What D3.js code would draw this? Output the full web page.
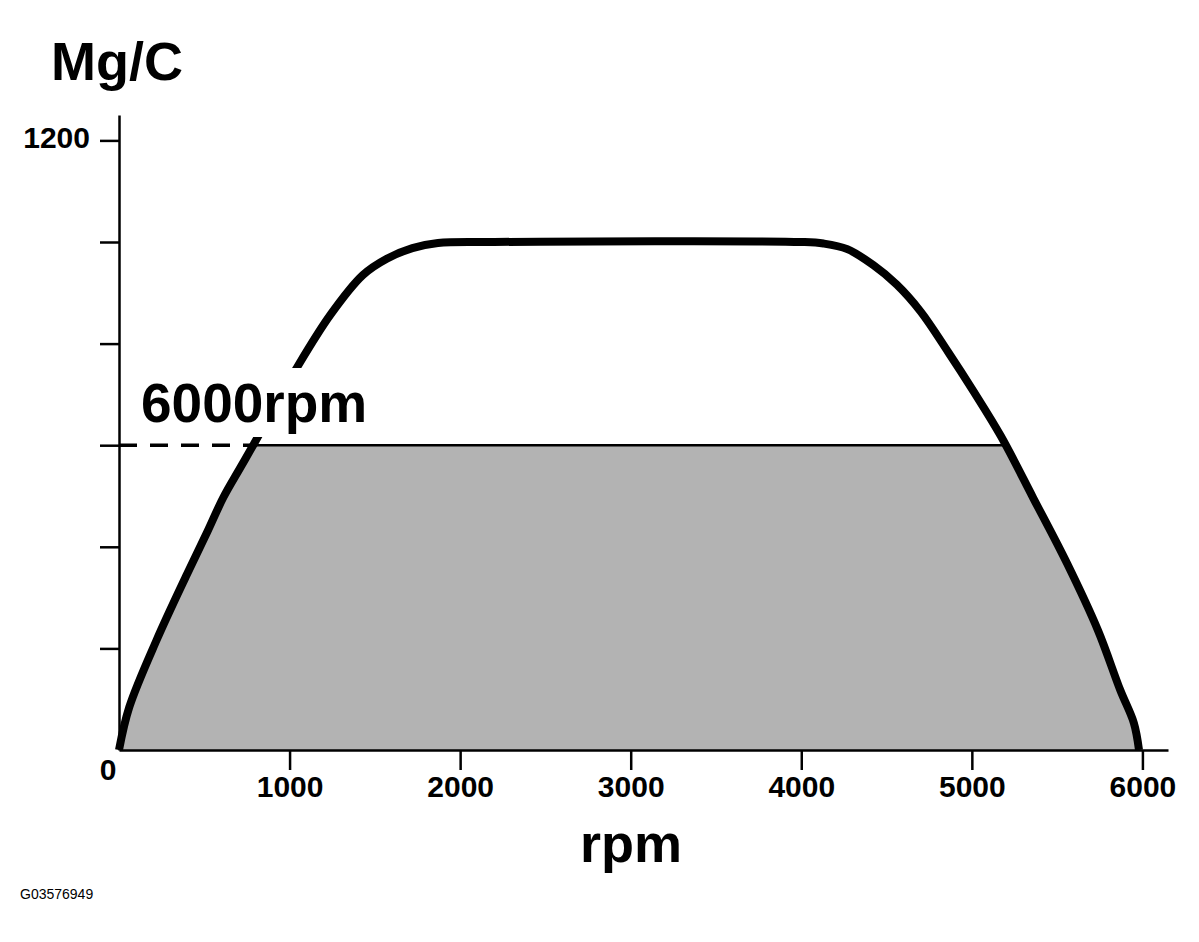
<!DOCTYPE html>
<html>
<head>
<meta charset="utf-8">
<script src="https://cdn.jsdelivr.net/npm/d3@7"></script>
<style>
  body { margin: 0; background: #fff; }
  text { font-family: "Liberation Sans", Arial, sans-serif; }
</style>
</head>
<body>
<div id="chart"></div>
<script>
// curve (rpm -> Mg/C)
const rpm = [0, 60, 220, 400, 520, 610, 710, 790, 1040, 1240, 1430, 1570, 1720, 1870, 2200,
             4000, 4130, 4270, 4420, 4560, 4700, 4860, 5010, 5170, 5360, 5560, 5740, 5870, 5950, 5980];
const mgc = [0, 84, 216, 347, 431, 496, 555, 602, 751, 857, 935, 967, 988, 998, 1000,
             1000, 997, 986, 955, 916, 863, 784, 706, 618, 496, 366, 235, 118, 53, 0];
const limit = 600;              // the 6000rpm level
const limitLabel = '6000rpm';
const xTicks = [1000, 2000, 3000, 4000, 5000, 6000];
const yTicks = [200, 400, 600, 800, 1000, 1200];

const width = 1199, height = 942;
const data = rpm.map((r, i) => ({ r, v: mgc[i] }));

const svg = d3.select('#chart').append('svg')
    .attr('width', width)
    .attr('height', height);

const x = d3.scaleLinear().domain([0, 6150]).range([119, 1168]);
const y = d3.scaleLinear().domain([0, 1250]).range([750, 115]);
const smooth = d3.curveCatmullRom.alpha(0.5);

// shaded part: under the curve, below the limit line
svg.append('clipPath').attr('id', 'below')
    .append('rect')
    .attr('x', 0).attr('y', y(limit))
    .attr('width', width).attr('height', y(0) - y(limit));

const area = d3.area()
    .x(d => x(d.r)).y0(y(0)).y1(d => y(d.v))
    .curve(smooth);

svg.append('clipPath').attr('id', 'under')
    .append('path').attr('d', area(data));

svg.append('path')
    .attr('d', area(data))
    .attr('fill', '#b3b3b3')
    .attr('clip-path', 'url(#below)');

// solid limit line between the two crossings
svg.append('line')
    .attr('x1', x(0)).attr('x2', x(6150))
    .attr('y1', y(limit)).attr('y2', y(limit))
    .attr('stroke', '#000').attr('stroke-width', 2.5)
    .attr('clip-path', 'url(#under)');

// dashed part from the axis to the first crossing
const k = mgc.findIndex(v => v >= limit);
const cross = rpm[k - 1] + (limit - mgc[k - 1]) / (mgc[k] - mgc[k - 1]) * (rpm[k] - rpm[k - 1]);
svg.append('line')
    .attr('x1', x(0)).attr('x2', x(cross))
    .attr('y1', y(limit)).attr('y2', y(limit))
    .attr('stroke', '#000').attr('stroke-width', 3.5)
    .attr('stroke-dasharray', '18,13');

// the curve
svg.append('path')
    .datum(data)
    .attr('d', d3.line().x(d => x(d.r)).y(d => y(d.v)).curve(smooth))
    .attr('fill', 'none')
    .attr('stroke', '#000')
    .attr('stroke-width', 8);

// label sits on a white patch that hides the curve
svg.append('rect')
    .attr('x', 138).attr('y', 368)
    .attr('width', 234).attr('height', 69)
    .attr('fill', '#fff');
svg.append('text')
    .attr('x', 141).attr('y', 422)
    .style('font-size', '55px').style('font-weight', 'bold')
    .text(limitLabel);

// axes
const yAxis = svg.append('g')
    .attr('transform', `translate(${x(0)},0)`)
    .call(d3.axisLeft(y).tickValues(yTicks).tickSize(19).tickSizeOuter(0).tickPadding(10)
        .tickFormat(d => d === 1200 ? d : ''));
const xAxis = svg.append('g')
    .attr('transform', `translate(0,${y(0)})`)
    .call(d3.axisBottom(x).tickValues(xTicks).tickSize(20).tickSizeOuter(0).tickPadding(6)
        .tickFormat(d3.format('d')));

[yAxis, xAxis].forEach(g => {
    g.selectAll('path, line').attr('stroke', '#000').attr('stroke-width', 2.5);
    g.selectAll('text')
        .attr('fill', '#000')
        .style('font-family', '"Liberation Sans", Arial, sans-serif')
        .style('font-size', '30px')
        .style('font-weight', 'bold');
});
yAxis.selectAll('text').attr('dy', '0.25em');

svg.append('text')
    .attr('x', 108).attr('y', 780)
    .attr('text-anchor', 'middle')
    .style('font-size', '30px').style('font-weight', 'bold')
    .text('0');

// titles
svg.append('text')
    .attr('x', 51).attr('y', 80)
    .style('font-size', '54px').style('font-weight', 'bold')
    .text('Mg/C');
svg.append('text')
    .attr('x', 631).attr('y', 862)
    .attr('text-anchor', 'middle')
    .style('font-size', '54px').style('font-weight', 'bold')
    .text('rpm');
svg.append('text')
    .attr('x', 20).attr('y', 899)
    .style('font-size', '14px')
    .text('G03576949');
</script>
</body>
</html>
